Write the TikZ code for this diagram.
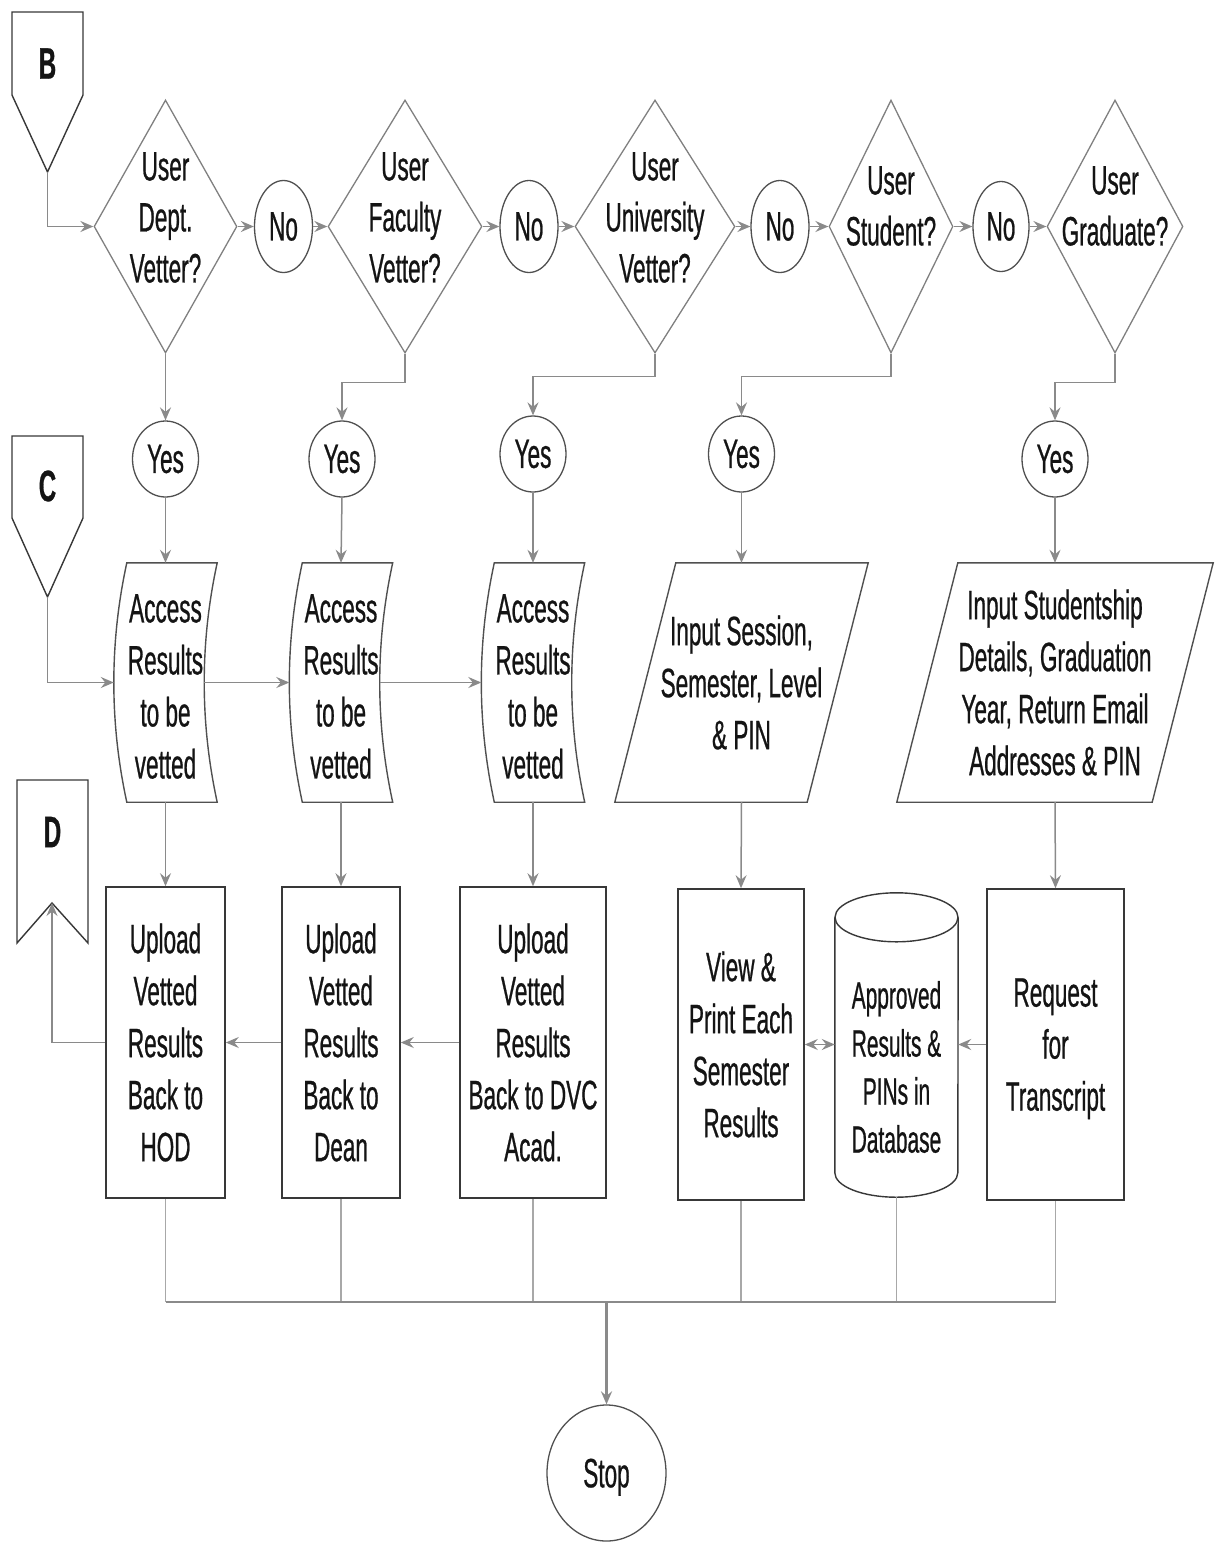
\documentclass[tikz,border=0pt]{standalone}
\usepackage{fontspec}
\setmainfont[FakeStretch=0.55,FakeBold=0.6]{Liberation Sans}
\usetikzlibrary{shapes.geometric,arrows.meta,calc}

\definecolor{linkc}{HTML}{8A8A8A}
\definecolor{buslc}{HTML}{A8A8A8}
\definecolor{boxc}{HTML}{383838}
\definecolor{diac}{HTML}{808080}
\definecolor{ovalc}{HTML}{505050}
\definecolor{inkc}{HTML}{141414}

\newcommand\mainsize{\fontsize{41}{52}\selectfont}
\newcommand\diasize{\fontsize{41}{51}\selectfont}
\newcommand\dbsize{\fontsize{38}{48}\selectfont}
\newcommand\tagsize{\fontsize{44}{44}\selectfont\bfseries}
% a line set without its descender, so that it does not shift the block
\newcommand\nodepth[1]{\raisebox{0pt}[\height][0pt]{#1}}

\tikzset{
  txt/.style={font=\mainsize, text=inkc, align=center, inner sep=0pt},
  procbox/.style={txt, draw=boxc, line width=1.6pt, rectangle, minimum height=311pt},
  decision/.style={diamond, draw=diac, line width=1.3pt, inner sep=0pt, minimum height=253pt},
  ovalnode/.style={txt, ellipse, draw=ovalc, line width=1.3pt},
  holder/.style={txt, rectangle, draw=none, minimum height=239pt},
  shapeline/.style={draw=ovalc, line width=1.4pt, line join=miter},
  tagline/.style={draw=boxc, line width=1.4pt},
  tip/.tip={Stealth[length=13pt,width=11pt,inset=4.5pt]},
  linkarrow/.style={draw=linkc, line width=1.5pt, -tip},
  linkboth/.style={draw=linkc, line width=1.5pt, tip-tip},
  busline/.style={draw=buslc, line width=1.3pt},
  busmain/.style={draw=linkc, line width=2pt},
}

% data shape with both sides bowed to the left
\newcommand\tapeshape[1]{%
  \draw[shapeline]
    ($(#1.north west)+(6.5,0)$) -- ($(#1.north east)+(6.5,0)$)
    .. controls ($(#1.north east)!0.333!(#1.south east)+(-10.8,0)$)
       and ($(#1.north east)!0.667!(#1.south east)+(-10.8,0)$)
    .. ($(#1.south east)+(6.5,0)$) -- ($(#1.south west)+(6.5,0)$)
    .. controls ($(#1.north west)!0.667!(#1.south west)+(-10.8,0)$)
       and ($(#1.north west)!0.333!(#1.south west)+(-10.8,0)$)
    .. cycle;
  \coordinate (#1-w) at ($(#1.west)+(-6.5,0)$);
  \coordinate (#1-e) at ($(#1.east)+(-6.5,0)$);
  \node[txt] (#1-text) at ([yshift=-4pt]#1.center) {Access\\Results\\to be\\vetted};
}
% input/output parallelogram
\newcommand\slantshape[1]{%
  \draw[shapeline] ($(#1.north west)+(61,0)$) -- (#1.north east)
    -- ($(#1.south east)+(-61,0)$) -- (#1.south west) -- cycle;
}

\begin{document}
\begin{tikzpicture}[x=1pt,y=-1pt]
\useasboundingbox (0,0) rectangle (1217,1545);
\fill[white] (0,0) rectangle (1217,1545);

% off-page connectors
\draw[tagline] (12,12) -- (83,12) -- (83,95) -- (47.5,172) -- (12,95) -- cycle;
\node[font=\tagsize, text=inkc, inner sep=0pt] (tagB) at (47.5,63.5) {B};
\coordinate (tagB-tip) at (47.5,172);

\draw[tagline] (12,436) -- (83,436) -- (83,518) -- (47.5,597) -- (12,518) -- cycle;
\node[font=\tagsize, text=inkc, inner sep=0pt] (tagC) at (47.5,486) {C};
\coordinate (tagC-tip) at (47.5,597);

\draw[tagline] (17,780) -- (88,780) -- (88,943) -- (52,903) -- (17,943) -- cycle;
\node[font=\tagsize, text=inkc, inner sep=0pt] (tagD) at (52.5,832) {D};
\coordinate (tagD-notch) at (52,903);

% decisions
\node[decision, minimum width=143pt] (d1) at (165.5,226.5) {};
\node[txt, font=\diasize] (d1t) at (165.5,217.5) {User\\Dept.\\Vetter?};
\node[decision, minimum width=154pt] (d2) at (405,226.5) {};
\node[txt, font=\diasize] (d2t) at (405,217.5) {User\\Faculty\\Vetter?};
\node[decision, minimum width=160pt] (d3) at (655,226.5) {};
\node[txt, font=\diasize] (d3t) at (655,217.5) {User\\University\\Vetter?};
\node[decision, minimum width=124pt] (d4) at (891,226.5) {};
\node[txt, font=\diasize] (d4t) at (891,206) {User\\Student?};
\node[decision, minimum width=136pt] (d5) at (1115,226.5) {};
\node[txt, font=\diasize] (d5t) at (1115,206) {User\\Graduate?};

% "No" branches
\node[ovalnode, minimum width=58pt, minimum height=92pt] (no1) at (283.5,226.5) {No};
\node[ovalnode, minimum width=58pt, minimum height=92pt] (no2) at (529,226.5) {No};
\node[ovalnode, minimum width=58pt, minimum height=92pt] (no3) at (780,226.5) {No};
\node[ovalnode, minimum width=56pt, minimum height=90pt] (no4) at (1001,226.5) {No};

% "Yes" branches
\node[ovalnode, minimum width=66pt, minimum height=76pt] (yes1) at (165.5,459) {Yes};
\node[ovalnode, minimum width=66pt, minimum height=76pt] (yes2) at (342,459) {Yes};
\node[ovalnode, minimum width=66pt, minimum height=76pt] (yes3) at (533,454) {Yes};
\node[ovalnode, minimum width=66pt, minimum height=76pt] (yes4) at (741.5,454) {Yes};
\node[ovalnode, minimum width=66pt, minimum height=76pt] (yes5) at (1055,459) {Yes};

% data shapes
\node[holder, minimum width=90pt] (acc1) at (165.5,682.5) {};
\tapeshape{acc1}
\node[holder, minimum width=90pt] (acc2) at (341,682.5) {};
\tapeshape{acc2}
\node[holder, minimum width=90pt] (acc3) at (533,682.5) {};
\tapeshape{acc3}
\node[holder, minimum width=253pt] (inp) at (741.5,682.5) {Input Session,\\Semester, Level\\\& PIN};
\slantshape{inp}
\node[holder, minimum width=316pt] (stud) at (1055,682.5) {Input Studentship\\Details, Graduation\\Year, Return Email\\Addresses \& PIN};
\slantshape{stud}

% processes
\node[procbox, minimum width=119pt] (up1) at (165.5,1042.5) {Upload\\Vetted\\Results\\Back to\\HOD};
\node[procbox, minimum width=118pt] (up2) at (341,1042.5) {Upload\\Vetted\\Results\\Back to\\Dean};
\node[procbox, minimum width=146pt] (up3) at (533,1042.5) {Upload\\Vetted\\Results\\Back to DVC\\Acad.};
\node[procbox, minimum width=126pt] (view) at (741,1044.5) {View \&\\Print Each\\Semester\\Results};
\node[procbox, minimum width=137pt] (req) at (1055.5,1044.5) {Request\\for\\\nodepth{Transcript}};

% database
\node[draw=none, inner sep=0pt, minimum width=123pt, minimum height=304pt] (db) at (896.5,1045) {};
\draw[draw=boxc, line width=1.4pt] ($(db.north west)+(0,24.5)$) -- ($(db.south west)+(0,-24.5)$)
  arc[start angle=180, end angle=360, x radius=61.5pt, y radius=24.5pt]
  -- ($(db.north east)+(0,24.5)$);
\draw[draw=boxc, line width=1.4pt] ($(db.north)+(0,24.5)$) ellipse[x radius=61.5pt, y radius=24.5pt];
\node[txt, font=\dbsize] (dbt) at (896.5,1067) {Approved\\Results \&\\PINs in\\Database};

% terminator
\node[ovalnode, minimum width=119pt, minimum height=136pt] (stop) at (606.5,1473) {\nodepth{Stop}};

% decision chain
\draw[linkarrow] (tagB-tip) |- (d1.west);
\draw[linkarrow] (d1.east) -- (no1.west);
\draw[linkarrow] (no1.east) -- (d2.west);
\draw[linkarrow] (d2.east) -- (no2.west);
\draw[linkarrow] (no2.east) -- (d3.west);
\draw[linkarrow] (d3.east) -- (no3.west);
\draw[linkarrow] (no3.east) -- (d4.west);
\draw[linkarrow] (d4.east) -- (no4.west);
\draw[linkarrow] (no4.east) -- (d5.west);

\draw[linkarrow] (d1.south) -- (yes1.north);
\draw[linkarrow] (d2.south) -- ++(0,29) -| (yes2.north);
\draw[linkarrow] (d3.south) -- ++(0,23) -| (yes3.north);
\draw[linkarrow] (d4.south) -- ++(0,23) -| (yes4.north);
\draw[linkarrow] (d5.south) -- ++(0,29) -| (yes5.north);

\draw[linkarrow] (yes1.south) -- (acc1.north);
\draw[linkarrow] (yes2.south) -- (acc2.north);
\draw[linkarrow] (yes3.south) -- (acc3.north);
\draw[linkarrow] (yes4.south) -- (inp.north);
\draw[linkarrow] (yes5.south) -- (stud.north);

\draw[linkarrow] (tagC-tip) |- (acc1-w);
\draw[linkarrow] (acc1-e) -- (acc2-w);
\draw[linkarrow] (acc2-e) -- (acc3-w);

\draw[linkarrow] (acc1.south) -- (up1.north);
\draw[linkarrow] (acc2.south) -- (up2.north);
\draw[linkarrow] (acc3.south) -- (up3.north);
\draw[linkarrow] (inp.south) -- (view.north);
\draw[linkarrow] (stud.south) -- (req.north);

\draw[linkarrow] (up3.west) -- (up2.east);
\draw[linkarrow] (up2.west) -- (up1.east);
\draw[linkarrow] (up1.west) -| (tagD-notch);
\draw[linkboth] (view.east) -- (view.east -| db.west);
\draw[linkarrow] (req.west) -- (req.west -| db.east);

% collector bus to Stop
\coordinate (bus) at (606.5,1302);
\foreach \n in {up1,up2,up3,view,db,req}
  \draw[busline] (\n.south) -- (\n.south |- bus);
\draw[busmain] (up1.south |- bus) -- (req.south |- bus);
\draw[linkarrow, line width=2.2pt] (bus) -- (stop.north);
\end{tikzpicture}
\end{document}
